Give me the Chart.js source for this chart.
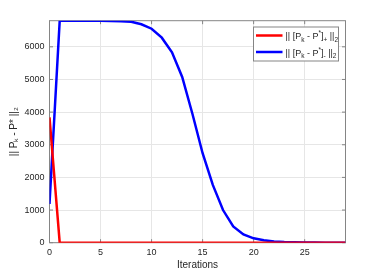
<!DOCTYPE html>
<html>
<head>
<meta charset="utf-8">
<script src="https://cdn.jsdelivr.net/npm/chart.js@4/dist/chart.umd.min.js"></script>
<style>
  html, body { margin: 0; padding: 0; background: #fff; }
  #wrap { width: 382px; height: 273px; position: relative; }
</style>
</head>
<body>
<div id="wrap"><canvas id="c" width="382" height="273"></canvas></div>
<script>
const iterations = [0,1,2,3,4,5,6,7,8,9,10,11,12,13,14,15,16,17,18,19,20,21,22,23,24,25,26,27,28,29];
const normPlus  = [3840,0,0,0,0,0,0,0,0,0,0,0,0,0,0,0,0,0,0,0,0,0,0,0,0,0,0,0,0,0];
const normMinus = [1185,6800,6800,6800,6799,6797,6793,6785,6765,6690,6555,6280,5830,5075,3950,2740,1770,1000,500,255,135,72,38,20,11,6,3,2,1,0.5];
const xTicks = [0,5,10,15,20,25];
const yTicks = [0,1000,2000,3000,4000,5000,6000];
const seriesNames = ['|| [Pₖ - P*]₊ ||₂', '|| [Pₖ - P*]₋ ||₂'];
// legend label pieces: [text, 0 = normal, -1 = subscript, 1 = superscript]
const legendPieces = [
  [['|| [P',0],['k',-1],[' - P',0],['*',1],[']',0],['+',-1],[' ||',0],['2',-1]],
  [['|| [P',0],['k',-1],[' - P',0],['*',1],[']',0],['-',-1],[' ||',0],['2',-1]]
];
const yTitle = '|| Pₖ - P* ||₂';
const xTitle = 'Iterations';

const AXIS = '#262626';
const FRAME = '#858585';
const FONT = '"Liberation Sans", Arial, Helvetica, sans-serif';

const framePlugin = {
  id: 'frame',
  beforeDatasetsDraw(chart) {
    const {ctx, chartArea: a, scales: {x, y}} = chart;
    ctx.save();
    ctx.strokeStyle = FRAME;
    ctx.lineWidth = 1;
    ctx.strokeRect(a.left, a.top, a.right - a.left, a.bottom - a.top);
    const L = 3.5;
    ctx.beginPath();
    xTicks.forEach(v => {
      const px = x.getPixelForValue(v);
      ctx.moveTo(px, a.bottom); ctx.lineTo(px, a.bottom - L);
      ctx.moveTo(px, a.top); ctx.lineTo(px, a.top + L);
    });
    yTicks.forEach(v => {
      const py = y.getPixelForValue(v);
      ctx.moveTo(a.left, py); ctx.lineTo(a.left + L, py);
      ctx.moveTo(a.right, py); ctx.lineTo(a.right - L, py);
    });
    ctx.stroke();
    ctx.restore();
  },
  afterDraw(chart) {
    const {ctx} = chart;
    const bx = 253.5, by = 27, bw = 85, bh = 34;
    ctx.save();
    ctx.fillStyle = '#fff';
    ctx.fillRect(bx, by, bw, bh);
    ctx.strokeStyle = FRAME;
    ctx.lineWidth = 1;
    ctx.strokeRect(bx, by, bw, bh);
    chart.data.datasets.forEach((ds, i) => {
      const yy = by + 8.5 + i * 16.5;
      ctx.strokeStyle = ds.borderColor;
      ctx.lineWidth = ds.borderWidth;
      ctx.beginPath();
      ctx.moveTo(bx + 2.5, yy); ctx.lineTo(bx + 29, yy);
      ctx.stroke();
      ctx.fillStyle = AXIS;
      ctx.textBaseline = 'alphabetic';
      ctx.textAlign = 'left';
      let tx = bx + 32;
      const base = yy + 3.5;
      legendPieces[i].forEach(([t, k]) => {
        ctx.font = (k === 0 ? '9px ' : '6.5px ') + FONT;
        const off = k === 0 ? 0 : (k < 0 ? 2.5 : -4);
        ctx.fillText(t, tx, base + off);
        tx += ctx.measureText(t).width;
      });
    });
    ctx.restore();
  }
};

new Chart(document.getElementById('c'), {
  type: 'line',
  data: {
    datasets: [
      { label: seriesNames[0], data: iterations.map((v, i) => ({x: v, y: normPlus[i]})),
        borderColor: '#ff0000', backgroundColor: '#ff0000', borderWidth: 2.5, pointRadius: 0, tension: 0 },
      { label: seriesNames[1], data: iterations.map((v, i) => ({x: v, y: normMinus[i]})),
        borderColor: '#0000ff', backgroundColor: '#0000ff', borderWidth: 2.5, pointRadius: 0, tension: 0 }
    ]
  },
  options: {
    responsive: false,
    animation: false,
    devicePixelRatio: 1,
    layout: { padding: { left: 0, right: 36.5, top: 20.7, bottom: 0 } },
    plugins: { legend: { display: false }, tooltip: { enabled: false } },
    scales: {
      x: {
        type: 'linear',
        min: iterations[0],
        max: iterations[iterations.length - 1],
        afterBuildTicks: s => { s.ticks = xTicks.map(v => ({value: v})); },
        afterFit: s => { s.height = 30.3; },
        grid: { color: '#e6e6e6', drawTicks: false, lineWidth: 1 },
        border: { display: false },
        ticks: { color: AXIS, font: { family: FONT, size: 9 }, padding: 4, maxRotation: 0, callback: v => String(v) },
        title: { display: true, text: xTitle, color: AXIS, font: { family: FONT, size: 10 }, padding: { top: 0, bottom: 2 } }
      },
      y: {
        min: 0,
        max: Math.max(...normMinus, ...normPlus),
        afterBuildTicks: s => { s.ticks = yTicks.map(v => ({value: v})); },
        afterFit: s => { s.width = 49.5; },
        grid: { color: '#e6e6e6', drawTicks: false, lineWidth: 1 },
        border: { display: false },
        ticks: { color: AXIS, font: { family: FONT, size: 9 }, padding: 5, callback: v => String(v) },
        title: { display: true, text: yTitle, color: AXIS, font: { family: FONT, size: 10 }, padding: { top: 8, bottom: 0 } }
      }
    }
  },
  plugins: [framePlugin]
});
</script>
</body>
</html>
